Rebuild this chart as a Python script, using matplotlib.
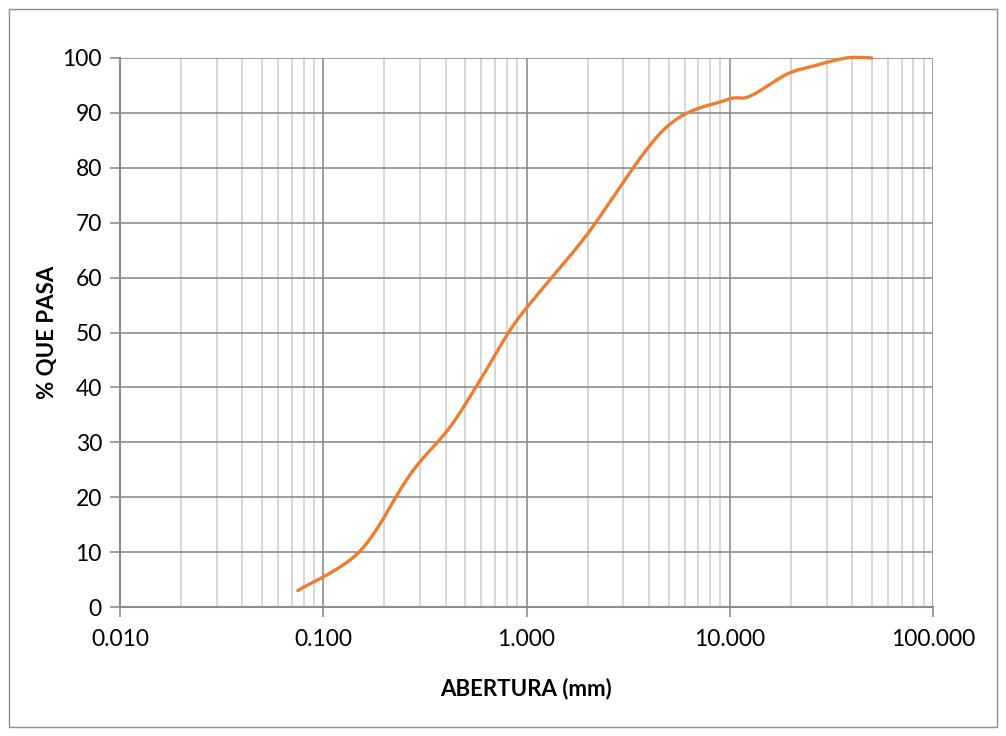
import numpy as np
import matplotlib
matplotlib.use("Agg")
import matplotlib.pyplot as plt
from matplotlib.patches import Rectangle
from matplotlib.ticker import FixedLocator, LogLocator, NullFormatter

plt.rcParams['font.family'] = ['Lato', 'DejaVu Sans']

# Sieve openings (mm) and percent passing
abertura = [0.075, 0.15, 0.25, 0.30, 0.425, 0.60, 0.85, 1.18, 2.00, 4.75, 9.5, 12.5, 19.0, 25.0, 37.5, 50.0]
pasa = [3.0, 10.0, 22.5, 26.5, 33.0, 41.7, 51.0, 57.7, 68.0, 87.0, 92.3, 93.0, 97.0, 98.4, 100.0, 100.0]

x_ticks = [0.01, 0.1, 1, 10, 100]
x_ticklabels = ["0.010", "0.100", "1.000", "10.000", "100.000"]
y_ticks = list(range(0, 101, 10))


def smooth(xs, ys, n=30):
    # Catmull-Rom smoothing in log-x space (like a spreadsheet smoothed line)
    lx = np.log10(np.asarray(xs, float))
    y = np.asarray(ys, float)
    P = np.column_stack([lx, y])
    P = np.vstack([P[0], P, P[-1]])
    out = []
    for i in range(1, len(P) - 2):
        p0, p1, p2, p3 = P[i - 1], P[i], P[i + 1], P[i + 2]
        b1 = p1 + (p2 - p0) / 6.0
        b2 = p2 - (p3 - p1) / 6.0
        t = np.linspace(0, 1, n, endpoint=(i == len(P) - 3))[:, None]
        seg = ((1 - t) ** 3) * p1 + 3 * ((1 - t) ** 2) * t * b1 + 3 * (1 - t) * t ** 2 * b2 + t ** 3 * p2
        out.append(seg)
    out = np.vstack(out)
    return 10 ** out[:, 0], out[:, 1]


fig = plt.figure(figsize=(10.06, 7.36), dpi=100)
ax = fig.add_axes([120 / 1006, 1 - 607 / 736, (933 - 120) / 1006, (607 - 58) / 736])

ax.set_xscale('log')
ax.set_xlim(0.01, 100)
ax.set_ylim(0, 100)

ax.xaxis.set_major_locator(FixedLocator(x_ticks))
ax.set_xticklabels(x_ticklabels)
ax.xaxis.set_minor_locator(LogLocator(base=10, subs=np.arange(2, 10)))
ax.xaxis.set_minor_formatter(NullFormatter())
ax.set_yticks(y_ticks)

ax.grid(which='minor', axis='x', color='#d0d0d0', linewidth=1.2)
ax.grid(which='major', axis='x', color='#8c8c8c', linewidth=1.2)
ax.grid(which='major', axis='y', color='#8c8c8c', linewidth=1.2)
ax.set_axisbelow(True)

for s in ['top', 'right']:
    ax.spines[s].set_visible(False)
for s in ['left', 'bottom']:
    ax.spines[s].set_color('#8c8c8c')
    ax.spines[s].set_linewidth(1.5)

ax.tick_params(axis='both', which='major', direction='out', length=7, width=1.2, color='#8c8c8c',
               labelsize=16.5, labelcolor='black')
ax.tick_params(axis='y', pad=6)
ax.tick_params(axis='x', pad=9)
ax.tick_params(axis='x', which='minor', length=0)

sx, sy = smooth(abertura, pasa)
ax.plot(sx, sy, color='#ED7D31', linewidth=2.4, solid_capstyle='round', clip_on=False, zorder=3)

ax.set_xlabel('ABERTURA (mm)', fontsize=16, fontweight='bold', labelpad=20)
ax.set_ylabel('% QUE PASA', fontsize=16, fontweight='bold', labelpad=3)

fig.patches.append(Rectangle((9 / 1006, 9 / 736), 988 / 1006, 718 / 736, transform=fig.transFigure,
                             fill=False, edgecolor='#8c8c8c', linewidth=1.0))

fig.savefig('out.png', dpi=100)
